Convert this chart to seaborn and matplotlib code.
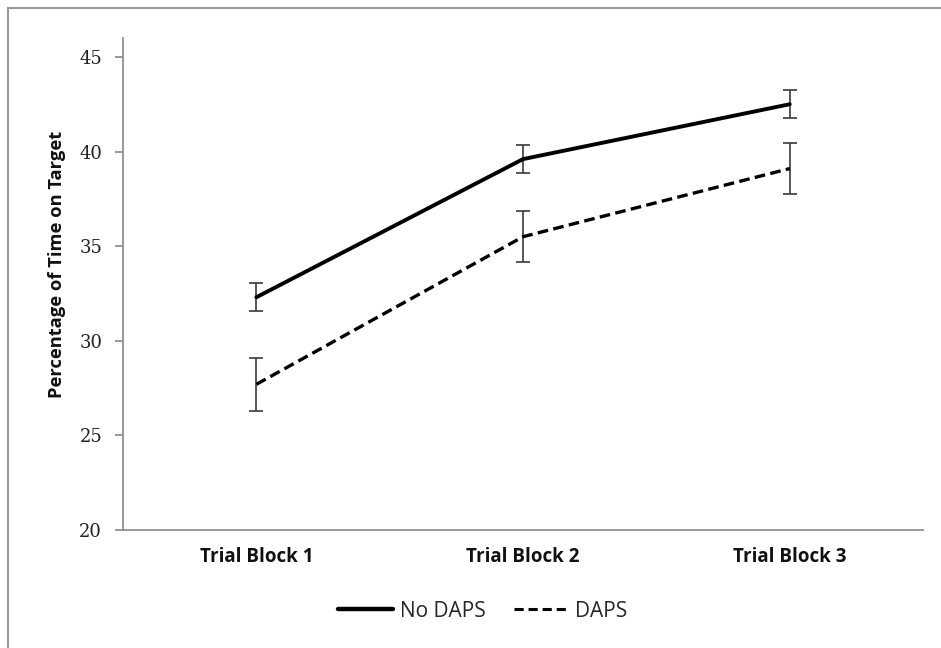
import pandas as pd
import seaborn as sns
import matplotlib.pyplot as plt
from matplotlib.patches import Rectangle

# Data
blocks = ["Trial Block 1", "Trial Block 2", "Trial Block 3"]
no_daps = [32.3, 39.6, 42.5]
no_daps_err = [0.75, 0.75, 0.75]
daps = [27.7, 35.5, 39.1]
daps_err = [1.4, 1.35, 1.35]

df = pd.DataFrame({
    "pos": list(range(3)) * 2,
    "value": no_daps + daps,
    "group": ["No DAPS"] * 3 + ["DAPS"] * 3,
})

sns.set_theme(style="white")
fig = plt.figure(figsize=(9.41, 6.48), dpi=100)
ax = fig.add_axes([0.1307, 0.182, 0.981 - 0.1307, 0.9414 - 0.182])

sns.lineplot(data=df[df.group == "No DAPS"], x="pos", y="value", color="black",
             linewidth=2.8, ax=ax, legend=False)
sns.lineplot(data=df[df.group == "DAPS"], x="pos", y="value", color="black",
             linewidth=2.4, dashes=(3.2, 1.6), ax=ax, legend=False)

ax.errorbar(range(3), no_daps, yerr=no_daps_err, fmt="none", ecolor="#3a3a3a",
            elinewidth=1.2, capsize=4.7, capthick=1.2, zorder=1)
ax.errorbar(range(3), daps, yerr=daps_err, fmt="none", ecolor="#3a3a3a",
            elinewidth=1.2, capsize=4.7, capthick=1.2, zorder=1)

ax.set_xlim(-0.5, 2.5)
ax.set_ylim(20, 46)
ax.set_yticks([20, 25, 30, 35, 40, 45])
ax.set_xticks(range(3))
ax.set_xticklabels(blocks, family="Open Sans", fontweight="bold", fontsize=13.5,
                   color="#111111")
for lab in ax.get_yticklabels():
    lab.set_family("DejaVu Serif")
    lab.set_fontsize(13)
    lab.set_color("#222222")
ax.tick_params(axis="y", length=6, width=1.2, color="#888888", direction="out", left=True, pad=9)
ax.tick_params(axis="x", length=0, pad=12)

for side in ["top", "right"]:
    ax.spines[side].set_visible(False)
for side in ["left", "bottom"]:
    ax.spines[side].set_color("#888888")
    ax.spines[side].set_linewidth(1.2)

ax.set_xlabel("")
ax.set_ylabel("Percentage of Time on Target", family="Open Sans", fontweight="bold",
              fontsize=13.2, color="#111111")
ax.yaxis.set_label_coords(-0.071, 0.54)

# legend
handles = [plt.Line2D([], [], color="black", linewidth=3.2),
           plt.Line2D([], [], color="black", linewidth=2.2, dashes=(3, 1.6))]
fig.legend(handles, ["No DAPS", "DAPS"], loc="center", bbox_to_anchor=(0.513, 0.057),
           ncol=2, frameon=False, handlelength=2.65, handletextpad=0.3,
           columnspacing=1.35, prop={"family": "Open Sans", "size": 15})

# chart area border
fig.add_artist(Rectangle((8 / 941, -0.1), 1.2, 1 - 8 / 648 + 0.1, transform=fig.transFigure,
                         fill=False, edgecolor="#999999", linewidth=1.5))

fig.savefig("out.png", dpi=100)
